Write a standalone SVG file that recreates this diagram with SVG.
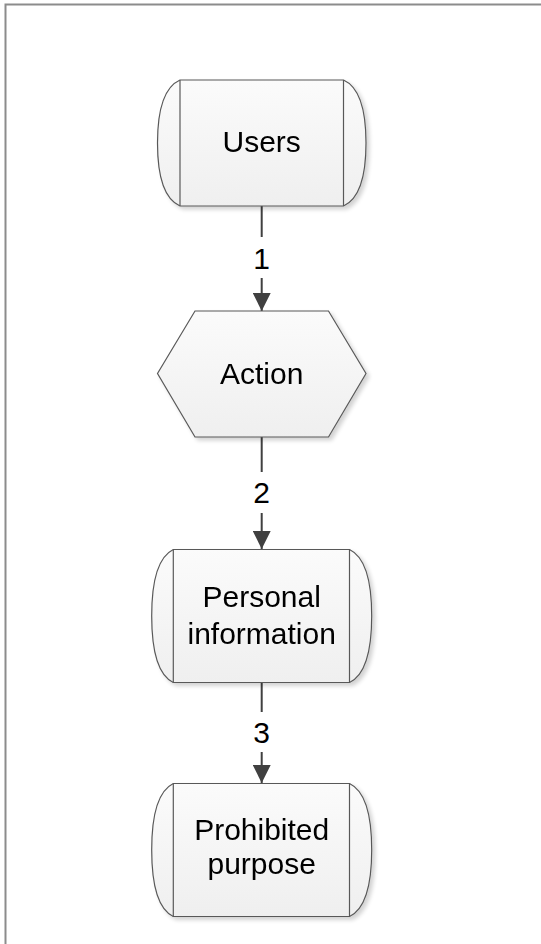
<svg xmlns="http://www.w3.org/2000/svg" width="541" height="944" viewBox="0 0 541 944">
<defs>
<linearGradient id="g" x1="0" y1="0" x2="0" y2="1">
<stop offset="0" stop-color="#fbfbfb"/>
<stop offset="1" stop-color="#efefef"/>
</linearGradient>
<filter id="sh" x="-10%" y="-10%" width="130%" height="130%">
<feGaussianBlur in="SourceAlpha" stdDeviation="2"/>
<feOffset dx="3" dy="3" result="b"/>
<feComponentTransfer><feFuncA type="linear" slope="0.18"/></feComponentTransfer>
<feMerge><feMergeNode/><feMergeNode in="SourceGraphic"/></feMerge>
</filter>
<marker id="ah" viewBox="0 0 18 18" markerWidth="18" markerHeight="18" refX="18" refY="9" orient="auto" markerUnits="userSpaceOnUse">
<path d="M0,0 L18,9 L0,18 Z" fill="#404040"/>
</marker>
</defs>
<style>
.shape{fill:url(#g);stroke:#595959;stroke-width:1.2}
.inner{stroke:#595959;stroke-width:1.2;fill:none}
.t{font-family:"Liberation Sans",Arial,sans-serif;font-size:30px;fill:#000;text-anchor:middle}
.c{stroke:#404040;stroke-width:2;fill:none}
</style>
<rect x="5.5" y="4.5" width="560" height="960" fill="#ffffff" stroke="#8c8c8c" stroke-width="2"/>
<g id="connectors">
<line class="c" x1="261.7" y1="206" x2="261.7" y2="237"/>
<line class="c" x1="261.7" y1="278" x2="261.7" y2="311" marker-end="url(#ah)"/>
<text class="t" x="261.7" y="268.5">1</text>
<line class="c" x1="261.7" y1="437" x2="261.7" y2="472"/>
<line class="c" x1="261.7" y1="513" x2="261.7" y2="549" marker-end="url(#ah)"/>
<text class="t" x="261.7" y="503">2</text>
<line class="c" x1="261.7" y1="682.5" x2="261.7" y2="712"/>
<line class="c" x1="261.7" y1="752" x2="261.7" y2="783" marker-end="url(#ah)"/>
<text class="t" x="261.7" y="743">3</text>
</g>
<g id="users" filter="url(#sh)">
<path class="shape" d="M180,80 L343.5,80 Q366,90 366,143 Q366,196 343.5,206 L180,206 Q157.5,196 157.5,143 Q157.5,90 180,80 Z"/>
<line class="inner" x1="180" y1="80" x2="180" y2="206"/>
<line class="inner" x1="343.5" y1="80" x2="343.5" y2="206"/>
<text class="t" x="261.7" y="152">Users</text>
</g>
<g id="action" filter="url(#sh)">
<path class="shape" d="M195,311 L328.5,311 L366,373.5 L328.5,437 L195,437 L157.5,373.5 Z"/>
<text class="t" x="261.7" y="384">Action</text>
</g>
<g id="personal" filter="url(#sh)">
<path class="shape" d="M173.3,549.5 L349.5,549.5 Q371.7,560 371.7,616 Q371.7,672 349.5,682.5 L173.3,682.5 Q151.7,672 151.7,616 Q151.7,560 173.3,549.5 Z"/>
<line class="inner" x1="173.3" y1="549.5" x2="173.3" y2="682.5"/>
<line class="inner" x1="349.5" y1="549.5" x2="349.5" y2="682.5"/>
<text class="t" x="261.7" y="607">Personal</text>
<text class="t" x="261.7" y="643.5">information</text>
</g>
<g id="prohibited" filter="url(#sh)">
<path class="shape" d="M173.3,783.5 L349.5,783.5 Q371.7,794 371.7,850 Q371.7,906 349.5,916.5 L173.3,916.5 Q151.7,906 151.7,850 Q151.7,794 173.3,783.5 Z"/>
<line class="inner" x1="173.3" y1="783.5" x2="173.3" y2="916.5"/>
<line class="inner" x1="349.5" y1="783.5" x2="349.5" y2="916.5"/>
<text class="t" x="261.7" y="839.5">Prohibited</text>
<text class="t" x="261.7" y="873.5">purpose</text>
</g>
</svg>
